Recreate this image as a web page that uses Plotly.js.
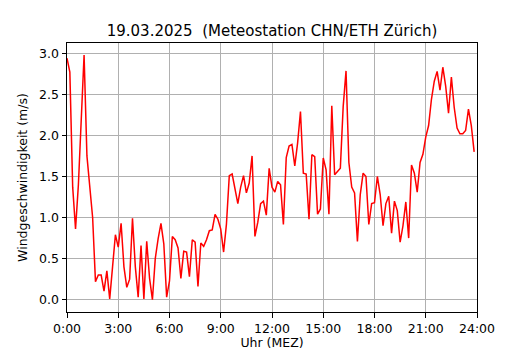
<!DOCTYPE html>
<html>
<head>
<meta charset="utf-8">
<script src="https://cdn.plot.ly/plotly-3.0.1.min.js"></script>
<style>html,body{margin:0;padding:0;background:#fff;}#chart{width:530px;height:350px;}</style>
</head>
<body>
<div id="chart"></div>
<script>
// 10-minute values of wind speed (m/s), 00:00 .. 23:50
const windSpeed = [
  2.94, 2.77, 1.37, 0.86, 1.40, 2.20, 2.98, 1.75, 1.40, 1.00, 0.22, 0.30,
  0.30, 0.105, 0.35, 0.01, 0.40, 0.79, 0.64, 0.93, 0.40, 0.15, 0.25, 0.99,
  0.40, 0.03, 0.66, 0.01, 0.71, 0.26, 0.00, 0.50, 0.74, 0.93, 0.68, 0.03,
  0.23, 0.77, 0.73, 0.63, 0.26, 0.59, 0.58, 0.28, 0.73, 0.70, 0.16, 0.69,
  0.65, 0.73, 0.84, 0.85, 1.04, 0.98, 0.86, 0.58, 0.92, 1.51, 1.53, 1.37,
  1.17, 1.37, 1.51, 1.30, 1.42, 1.75, 0.77, 0.94, 1.17, 1.20, 1.03, 1.60,
  1.37, 1.31, 1.44, 1.40, 0.915, 1.73, 1.87, 1.89, 1.63, 1.91, 2.29, 1.54,
  1.53, 0.98, 1.765, 1.74, 1.04, 1.105, 1.725, 1.58, 1.04, 2.36, 1.52, 1.56,
  1.60, 2.35, 2.785, 1.67, 1.37, 1.30, 0.71, 1.28, 1.54, 1.50, 0.915, 1.17,
  1.18, 1.50, 1.28, 0.90, 1.17, 1.26, 0.81, 1.20, 1.085, 0.70, 0.90, 1.19,
  0.75, 1.64, 1.54, 1.31, 1.67, 1.77, 1.98, 2.12, 2.44, 2.66, 2.78, 2.55,
  2.83, 2.60, 2.27, 2.71, 2.34, 2.09, 2.02, 2.02, 2.06, 2.32, 2.12, 1.80
];
// sample times in hours (10-minute steps)
const timeHours = windSpeed.map((_, i) => i / 6);
const xTickVals = [0, 3, 6, 9, 12, 15, 18, 21, 24];
const xTickText = ["0:00", "3:00", "6:00", "9:00", "12:00", "15:00", "18:00", "21:00", "24:00"];
const yTickVals = [0, 0.5, 1, 1.5, 2, 2.5, 3];
const yTickText = ["0.0", "0.5", "1.0", "1.5", "2.0", "2.5", "3.0"];

const font = "DejaVu Sans, sans-serif";
const axisCommon = {
  showline: true, linecolor: "#000", linewidth: 1, mirror: true,
  showgrid: true, gridcolor: "#b0b0b0", gridwidth: 1,
  ticks: "outside", ticklen: 4.5, tickwidth: 1, tickcolor: "#000",
  zeroline: false,
  tickfont: {family: font, size: 12.5, color: "#000"}
};

const trace = {
  x: timeHours, y: windSpeed, type: "scatter", mode: "lines",
  line: {color: "#ff0000", width: 1.5}, hoverinfo: "skip"
};

const layout = {
  width: 530, height: 350,
  margin: {l: 66.8, r: 52.8, t: 42.5, b: 37.5, pad: 0},
  paper_bgcolor: "#fff", plot_bgcolor: "#fff",
  showlegend: false,
  font: {family: font, color: "#000"},
  title: {
    text: "19.03.2025 \u00a0(Meteostation CHN/ETH Zürich)",
    font: {family: font, size: 15, color: "#000"},
    x: 0.5, xref: "paper", xanchor: "center",
    y: 0.913, yref: "container", yanchor: "middle"
  },
  xaxis: Object.assign({}, axisCommon, {
    range: [0, 24], tickmode: "array", tickvals: xTickVals, ticktext: xTickText,
    title: {text: "Uhr (MEZ)", font: {family: font, size: 12.5, color: "#000"}, standoff: 4}
  }),
  yaxis: Object.assign({}, axisCommon, {
    range: [-0.15, 3.125], tickmode: "array", tickvals: yTickVals, ticktext: yTickText,
    title: {text: "Windgeschwindigkeit (m/s)", font: {family: font, size: 12.5, color: "#000"}, standoff: 8}
  })
};

Plotly.newPlot("chart", [trace], layout, {displayModeBar: false, staticPlot: true});
</script>
</body>
</html>
